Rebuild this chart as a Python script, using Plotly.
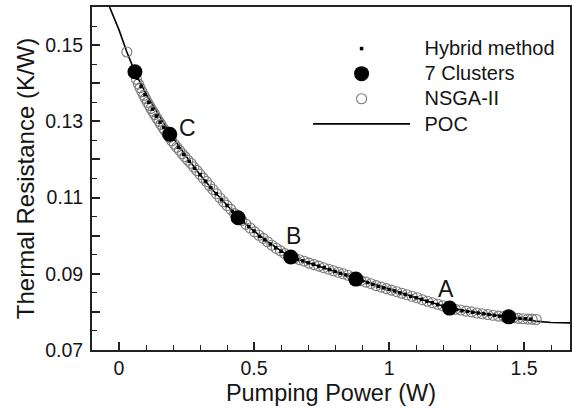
import plotly.graph_objects as go

# ---------------- data ----------------
poc_x = [-0.035, 0.0, 0.029, 0.059, 0.10, 0.15, 0.19, 0.25, 0.30, 0.35, 0.40, 0.441,
         0.50, 0.544, 0.60, 0.636, 0.70, 0.80, 0.875, 1.0, 1.1, 1.224, 1.30, 1.35,
         1.441, 1.50, 1.55, 1.60, 1.70]
poc_y = [0.1600, 0.1540, 0.1482, 0.1429, 0.1372, 0.1315, 0.1267, 0.1207, 0.1160, 0.1118,
         0.1079, 0.1049, 0.1012, 0.0988, 0.0960, 0.0944, 0.0929, 0.0906, 0.0887, 0.0860,
         0.0837, 0.0810, 0.0800, 0.0795, 0.0787, 0.0780, 0.0775, 0.0772, 0.0771]

cluster_x = [0.059, 0.188, 0.441, 0.636, 0.877, 1.224, 1.443]
cluster_y = [0.1430, 0.1266, 0.1047, 0.0944, 0.0886, 0.0810, 0.0787]

nsga_x = [0.029, 0.065, 0.072, 0.078, 0.085, 0.092, 0.098, 0.105, 0.112, 0.118, 0.125,
          0.132, 0.140, 0.148, 0.155, 0.163, 0.170, 0.178, 0.186, 0.195, 0.205, 0.214,
          0.224, 0.234, 0.244, 0.255, 0.266, 0.277, 0.288, 0.300, 0.312, 0.324, 0.336,
          0.348, 0.361, 0.374, 0.387, 0.400, 0.414, 0.428, 0.455, 0.470, 0.486, 0.502,
          0.518, 0.534, 0.550, 0.566, 0.582, 0.598, 0.614, 0.650, 0.668, 0.686, 0.704,
          0.722, 0.740, 0.758, 0.776, 0.794, 0.812, 0.830, 0.848, 0.866, 0.895, 0.914,
          0.933, 0.952, 0.971, 0.990, 1.009, 1.028, 1.047, 1.066, 1.085, 1.104, 1.123,
          1.142, 1.161, 1.180, 1.199, 1.245, 1.265, 1.285, 1.305, 1.325, 1.345, 1.365,
          1.385, 1.405, 1.425, 1.460, 1.478, 1.496, 1.514, 1.530, 1.545]
nsga_y = [0.1482, 0.1410, 0.1398, 0.1388, 0.1378, 0.1368, 0.1360, 0.1350, 0.1342, 0.1334,
          0.1326, 0.1318, 0.1308, 0.1300, 0.1292, 0.1283, 0.1276, 0.1266, 0.1258, 0.1249,
          0.1240, 0.1232, 0.1224, 0.1215, 0.1207, 0.1198, 0.1190, 0.1180, 0.1171, 0.1161,
          0.1151, 0.1142, 0.1131, 0.1121, 0.1110, 0.1099, 0.1089, 0.1079, 0.1069, 0.1058,
          0.1040, 0.1030, 0.1020, 0.1010, 0.1001, 0.0993, 0.0984, 0.0975, 0.0967, 0.0960,
          0.0953, 0.0941, 0.0937, 0.0933, 0.0928, 0.0924, 0.0920, 0.0916, 0.0912, 0.0908,
          0.0904, 0.0900, 0.0896, 0.0891, 0.0882, 0.0878, 0.0874, 0.0869, 0.0865, 0.0861,
          0.0857, 0.0853, 0.0849, 0.0845, 0.0841, 0.0837, 0.0832, 0.0828, 0.0824, 0.0820,
          0.0816, 0.0807, 0.0805, 0.0802, 0.0800, 0.0797, 0.0795, 0.0793, 0.0791, 0.0789,
          0.0788, 0.0785, 0.0783, 0.0782, 0.0781, 0.0781, 0.0780]

hybrid_x = [0.068, 0.082, 0.096, 0.110, 0.124, 0.138, 0.152, 0.166, 0.180, 0.200, 0.220,
            0.240, 0.260, 0.280, 0.300, 0.320, 0.340, 0.360, 0.380, 0.400, 0.420, 0.460,
            0.480, 0.500, 0.520, 0.540, 0.560, 0.580, 0.600, 0.620, 0.660, 0.680, 0.700,
            0.720, 0.740, 0.760, 0.780, 0.800, 0.820, 0.840, 0.860, 0.900, 0.920, 0.940,
            0.960, 0.980, 1.000, 1.020, 1.040, 1.060, 1.080, 1.100, 1.120, 1.140, 1.160,
            1.180, 1.200, 1.250, 1.270, 1.290, 1.310, 1.330, 1.350, 1.370, 1.390, 1.410,
            1.465, 1.485, 1.505, 1.525]
hybrid_y = [0.1413, 0.1392, 0.1370, 0.1350, 0.1332, 0.1314, 0.1298, 0.1284, 0.1270, 0.1253,
            0.1232, 0.1213, 0.1195, 0.1177, 0.1160, 0.1143, 0.1126, 0.1110, 0.1094, 0.1079,
            0.1064, 0.1036, 0.1024, 0.1012, 0.0998, 0.0989, 0.0978, 0.0968, 0.0959, 0.0950,
            0.0938, 0.0934, 0.0929, 0.0925, 0.0920, 0.0916, 0.0911, 0.0906, 0.0901, 0.0897,
            0.0891, 0.0881, 0.0877, 0.0872, 0.0867, 0.0863, 0.0859, 0.0855, 0.0850, 0.0846,
            0.0841, 0.0837, 0.0833, 0.0828, 0.0824, 0.0819, 0.0815, 0.0806, 0.0803, 0.0801,
            0.0799, 0.0797, 0.0795, 0.0793, 0.0791, 0.0789, 0.0784, 0.0783, 0.0782, 0.0781]

label_text = ["C", "B", "A"]
label_x = [0.254, 0.647, 1.209]
label_y = [0.1282, 0.0999, 0.0860]

y_tickvals = [0.07, 0.08, 0.09, 0.10, 0.11, 0.12, 0.13, 0.14, 0.15, 0.16]
y_ticktext = ["0.07", "", "0.09", "", "0.11", "", "0.13", "", "0.15", ""]
x_tickvals = [0, 0.5, 1, 1.5]
x_ticktext = ["0", "0.5", "1", "1.5"]

FONT = "Liberation Sans, Arial, sans-serif"
AXC = "#222222"
TXT = "#151515"


def leg(name):
    return '\u00a0\u00a0<span style="font-size:20px">' + name + '</span>'


fig = go.Figure()
fig.add_trace(go.Scatter(x=poc_x, y=poc_y, mode="lines", name=leg("POC"),
                         line=dict(color="black", width=1.6), legendrank=4))
fig.add_trace(go.Scatter(x=nsga_x, y=nsga_y, mode="markers", name=leg("NSGA-II"),
                         marker=dict(symbol="circle-open", size=10, color="#7a7a7a",
                                     line=dict(width=1.1)), legendrank=3))
fig.add_trace(go.Scatter(x=hybrid_x, y=hybrid_y, mode="markers", name=leg("Hybrid method"),
                         marker=dict(symbol="square", size=3.5, color="black"), legendrank=1))
fig.add_trace(go.Scatter(x=cluster_x, y=cluster_y, mode="markers", name=leg("7 Clusters"),
                         marker=dict(symbol="circle", size=15, color="black"), legendrank=2))

for t, xv, yv in zip(label_text, label_x, label_y):
    fig.add_annotation(x=xv, y=yv, text=t, showarrow=False,
                       font=dict(family=FONT, size=23, color=TXT))

fig.update_layout(
    width=572, height=414,
    margin=dict(l=92, r=0, t=7, b=64),
    paper_bgcolor="white", plot_bgcolor="white",
    font=dict(family=FONT, color=TXT),
    legend=dict(x=0.452, y=0.93, xanchor="left", yanchor="top",
                bgcolor="rgba(0,0,0,0)", font=dict(family=FONT, size=17, color=TXT),
                itemwidth=97, traceorder="normal"),
    xaxis=dict(range=[-0.1, 1.67], tickvals=x_tickvals, ticktext=x_ticktext,
               ticks="inside", ticklen=8, tickwidth=1.5, tickcolor=AXC,
               minor=dict(dtick=0.1, ticks="inside", ticklen=5, tickwidth=1.2, tickcolor=AXC),
               showline=True, linewidth=2, linecolor=AXC, mirror=True,
               showgrid=False, zeroline=False,
               tickfont=dict(family=FONT, size=19.5, color=TXT),
               title=dict(text="Pumping Power (W)", font=dict(family=FONT, size=23.5, color=TXT),
                          standoff=6)),
    yaxis=dict(range=[0.07, 0.16], tickvals=y_tickvals, ticktext=y_ticktext,
               ticks="inside", ticklen=8, tickwidth=1.5, tickcolor=AXC,
               minor=dict(dtick=0.005, ticks="inside", ticklen=5, tickwidth=1.2, tickcolor=AXC),
               showline=True, linewidth=2, linecolor=AXC, mirror=True,
               showgrid=False, zeroline=False, ticklabelstandoff=3,
               tickfont=dict(family=FONT, size=19.5, color=TXT),
               title=dict(text="Thermal Resistance (K/W)",
                          font=dict(family=FONT, size=24, color=TXT), standoff=4)),
)

fig.write_html("out.html")
